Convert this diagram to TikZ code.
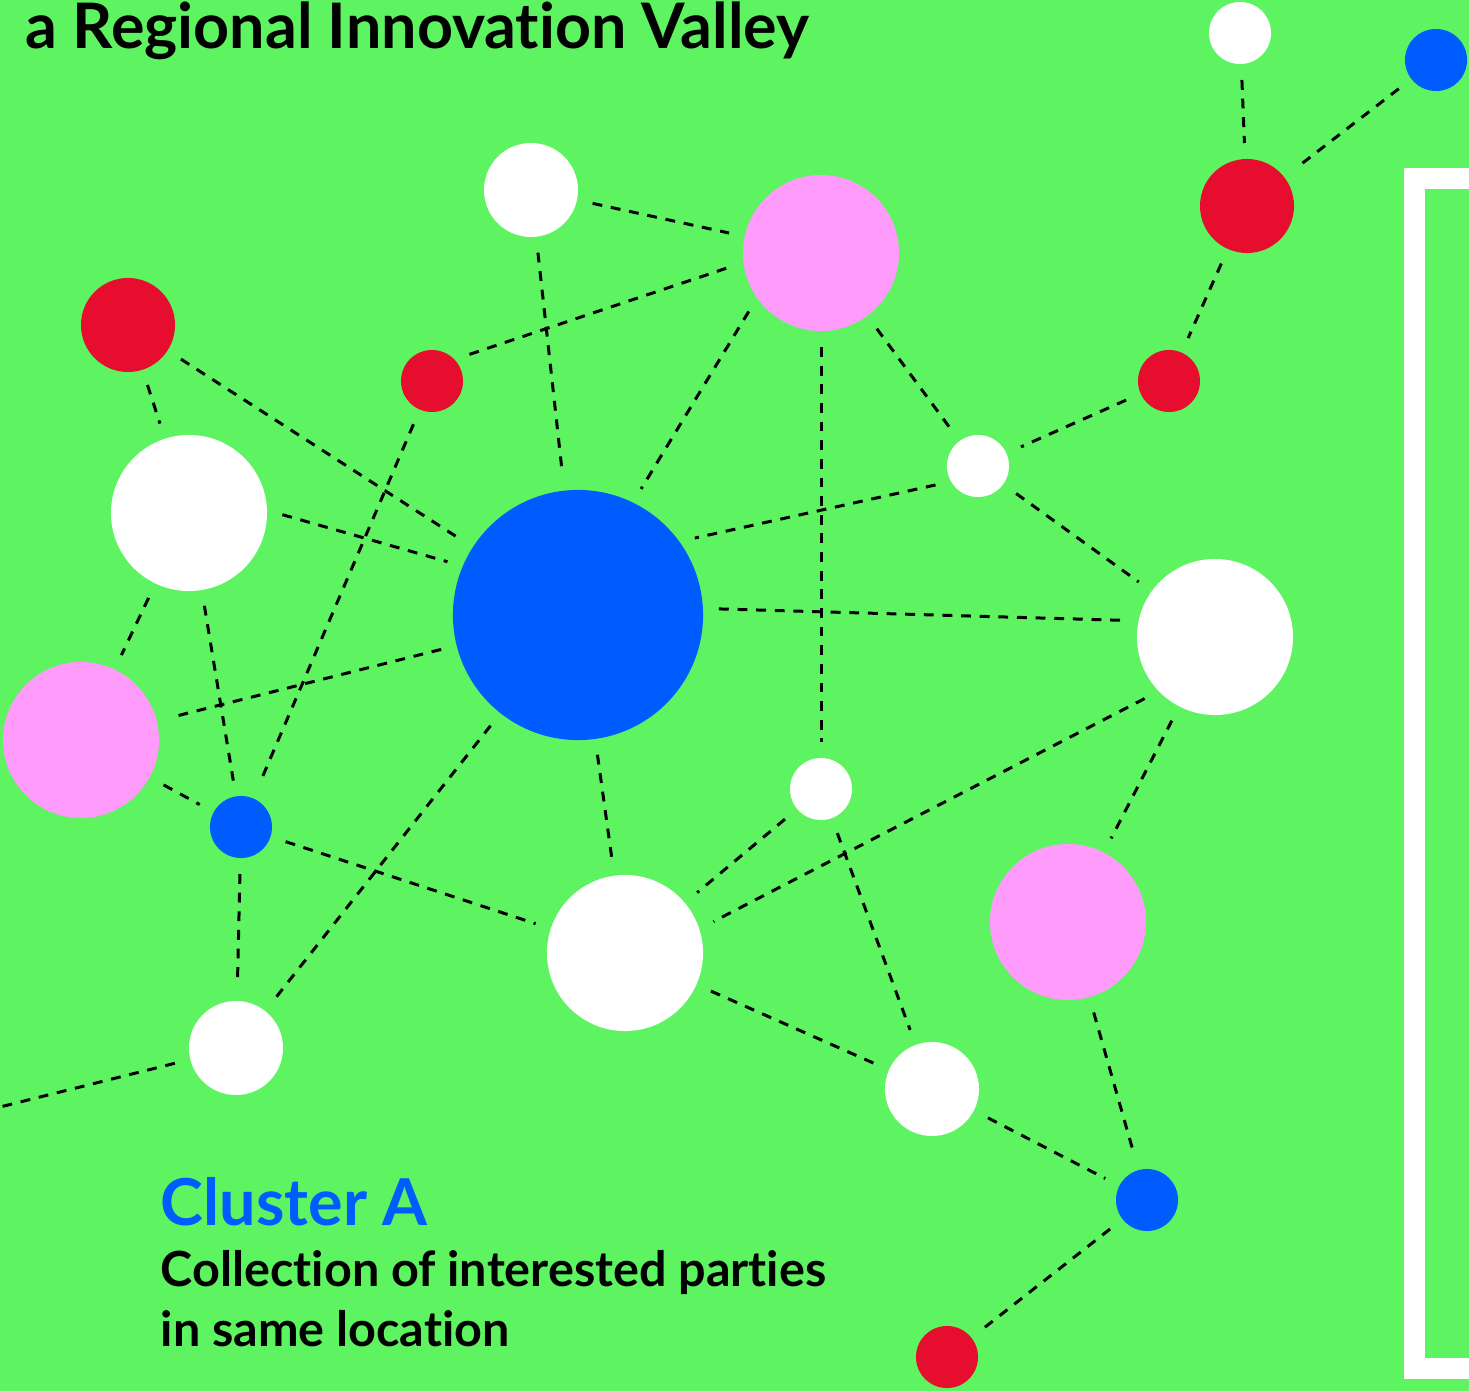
\documentclass[tikz,border=0pt]{standalone}
\usepackage{fontspec}
\setmainfont{Lato}[Ligatures=NoCommon]
\definecolor{valleygreen}{RGB}{94,243,96}
\definecolor{clublue}{RGB}{0,92,255}
\definecolor{clupink}{RGB}{255,155,250}
\definecolor{clured}{RGB}{230,13,46}
\begin{document}
\begin{tikzpicture}
[x=0.01cm, y=-0.01cm,
 party/.style={circle, inner sep=0pt, outer sep=0pt},
 tiny/.style={party, minimum size=0.62cm},
 mid/.style={party, minimum size=0.94cm},
 big/.style={party, minimum size=1.56cm},
 huge/.style={party, minimum size=2.5cm},
 wh/.style={fill=white}, bl/.style={fill=clublue},
 pk/.style={fill=clupink}, rd/.style={fill=clured},
 link/.style={draw=black, line width=0.85pt, dash pattern=on 2.8pt off 2.5pt,
   shorten <=0.16cm, shorten >=0.16cm},
 label/.style={inner sep=0pt, anchor=base west, font=\bfseries}]
\useasboundingbox (0,0) rectangle (1469,1391);
\fill[valleygreen] (0,0) rectangle (1469,1391);
\draw[white, line width=0.21cm, miter limit=10] (1520,178.5) -- (1414,178.5) -- (1414,1368.5) -- (1520,1368.5);

% parties
\node (hub) at (578,615) [huge, bl] {};
\node (w1) at (1240,33) [tiny, wh] {};
\node (b1) at (1436,60) [tiny, bl] {};
\node (r1) at (1247,206) [mid, rd] {};
\node (wt) at (531,190) [mid, wh] {};
\node (p1) at (821,253) [big, pk] {};
\node (r2) at (128,325) [mid, rd] {};
\node (r3) at (432,381) [tiny, rd] {};
\node (r4) at (1169,381) [tiny, rd] {};
\node (w2) at (978,466) [tiny, wh] {};
\node (w3) at (189,513) [big, wh] {};
\node (w4) at (1215,637) [big, wh] {};
\node (p2) at (81,740) [big, pk] {};
\node (b2) at (241,827) [tiny, bl] {};
\node (w5) at (821,789) [tiny, wh] {};
\node (p3) at (1068,922) [big, pk] {};
\node (w6) at (625,953) [big, wh] {};
\node (w7) at (236,1048) [mid, wh] {};
\node (w8) at (932,1089) [mid, wh] {};
\node (b3) at (1147,1200) [tiny, bl] {};
\node (r5) at (947,1357) [tiny, rd] {};
\coordinate (away) at (-16,1111);

% links
\draw[link] (w1) -- (r1);
\draw[link] (b1) -- (r1);
\draw[link] (r1) -- (r4);
\draw[link] (r4) -- (w2);
\draw[link] (wt) -- (p1);
\draw[link] (r3.44) -- (p1.187);
\draw[link] (wt) -- (hub);
\draw[link] (p1.215) -- (hub.64);
\draw[link] (p1) -- (w2);
\draw[link] (p1) -- (w5);
\draw[link] (w2.210) -- (hub.36);
\draw[link] (w2) -- (w4);
\draw[link] (r2) -- (hub);
\draw[link] (r2) -- (w3);
\draw[link] (w3.2) -- (hub.157);
\draw[link] (w3) -- (p2);
\draw[link] (w3) -- (b2);
\draw[link] (r3) -- (b2);
\draw[link] (hub) -- (p2);
\draw[link] (hub.3) -- (w4.168);
\draw[link] (hub) -- (w7);
\draw[link] (hub) -- (w6);
\draw[link] (p2) -- (b2);
\draw[link] (b2) -- (w6);
\draw[link] (b2) -- (w7);
\draw[link] (w5) -- (w6);
\draw[link] (w4.224) -- (w6.18);
\draw[link] (w5) -- (w8);
\draw[link] (w4) -- (p3);
\draw[link] (w6) -- (w8);
\draw[link] (w8) -- (b3);
\draw[link] (p3) -- (b3);
\draw[link] (b3) -- (r5);
\draw[link, shorten >=0pt] (w7) -- (away);

% texts
\node (title) at (25,49) [label] {\fontsize{17.85}{20}\selectfont a Regional Innovation Valley};
\node (cluster) at (160,1225) [label, text=clublue] {\fontsize{18.4}{20}\selectfont Cluster A};
\node (desc1) at (160,1286) [label] {\fontsize{13.8}{17}\selectfont Collection of interested parties};
\node (desc2) at (160,1346) [label] {\fontsize{13.8}{17}\selectfont in same location};
\end{tikzpicture}
\end{document}
